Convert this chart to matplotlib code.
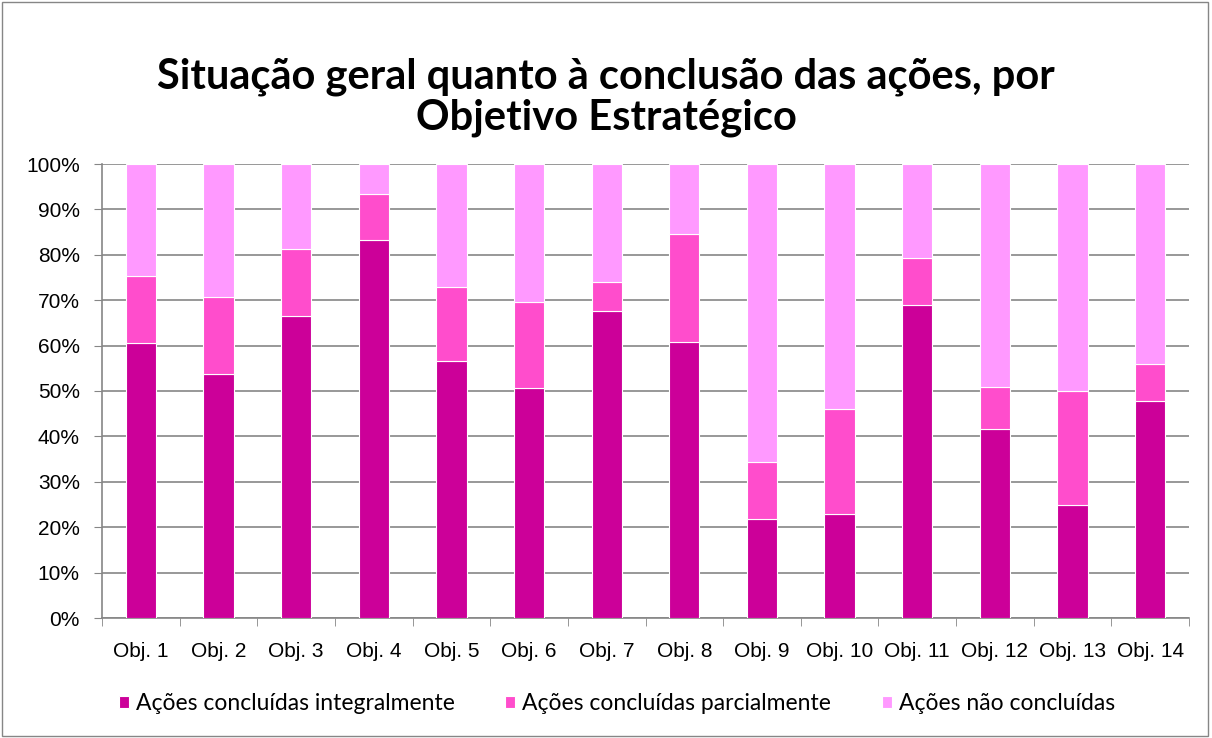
import matplotlib
matplotlib.use('Agg')
import matplotlib.pyplot as plt
import numpy as np
from matplotlib.patches import Rectangle

plt.rcParams['font.family'] = ['Lato', 'DejaVu Sans']

# dados (percentagens por objetivo)
categorias = ['Obj. 1', 'Obj. 2', 'Obj. 3', 'Obj. 4', 'Obj. 5', 'Obj. 6', 'Obj. 7',
              'Obj. 8', 'Obj. 9', 'Obj. 10', 'Obj. 11', 'Obj. 12', 'Obj. 13', 'Obj. 14']
integral = [60.6, 53.7, 66.5, 83.3, 56.6, 50.7, 67.6, 60.7, 21.9, 22.8, 68.9, 41.7, 24.8, 47.8]
parcial = [14.7, 17.0, 14.8, 10.1, 16.3, 19.0, 6.3, 23.9, 12.4, 23.2, 10.3, 9.2, 25.1, 8.2]
nao_concluidas = [100 - a - b for a, b in zip(integral, parcial)]

series = ['Ações concluídas integralmente', 'Ações concluídas parcialmente', 'Ações não concluídas']
cores = ['#CC0099', '#FF4DCC', '#FF99FF']

fig = plt.figure(figsize=(12.12, 7.38), dpi=100)
ax = fig.add_axes([102 / 1212, 1 - 618 / 738, (1189 - 102) / 1212, (618 - 164) / 738])

x = np.arange(len(categorias))
base = np.zeros(len(categorias))
for valores, cor, nome in zip([integral, parcial, nao_concluidas], cores, series):
    ax.bar(x, valores, width=0.39, bottom=base, color=cor, label=nome,
           edgecolor='white', linewidth=0.8, zorder=3)
    base = base + np.array(valores)

ax.set_xlim(-0.5, len(categorias) - 0.5)
ax.set_ylim(0, 100)
ax.set_yticks(np.arange(0, 101, 10))
ax.set_yticklabels([f'{v}%' for v in range(0, 101, 10)], fontsize=15,
                   family=['Liberation Sans'])
ax.set_xticks(x)
ax.set_xticklabels(categorias, fontsize=15, family=['Liberation Sans'])
ax.set_xticks(np.arange(-0.5, len(categorias), 1), minor=True)
ax.tick_params(axis='x', which='major', length=0, pad=17)
ax.tick_params(axis='x', which='minor', length=6, color='#868686')
ax.tick_params(axis='y', length=6, color='#868686', pad=10)

ax.grid(axis='y', color='#868686', linewidth=1.2, zorder=0)
for lado in ['top', 'right']:
    ax.spines[lado].set_visible(False)
for lado in ['left', 'bottom']:
    ax.spines[lado].set_color('#868686')
    ax.spines[lado].set_linewidth(1.2)

fig.text(0.5, 1 - 97 / 738, 'Situação geral quanto à conclusão das ações, por\nObjetivo Estratégico',
         ha='center', va='center', fontsize=30, fontweight='bold', linespacing=1.08)

handles, labels = ax.get_legend_handles_labels()
fig.legend(handles, labels, loc='center left', bbox_to_anchor=(98 / 1212, 1 - 704 / 738),
           ncol=3, frameon=False, fontsize=16.5, handlelength=0.45, handleheight=0.45,
           handletextpad=0.3, columnspacing=2.2)

fig.add_artist(Rectangle((0.002, 0.003), 0.995, 0.994, transform=fig.transFigure,
                         fill=False, edgecolor='#868686', linewidth=1))

fig.savefig('out.png', dpi=100)
